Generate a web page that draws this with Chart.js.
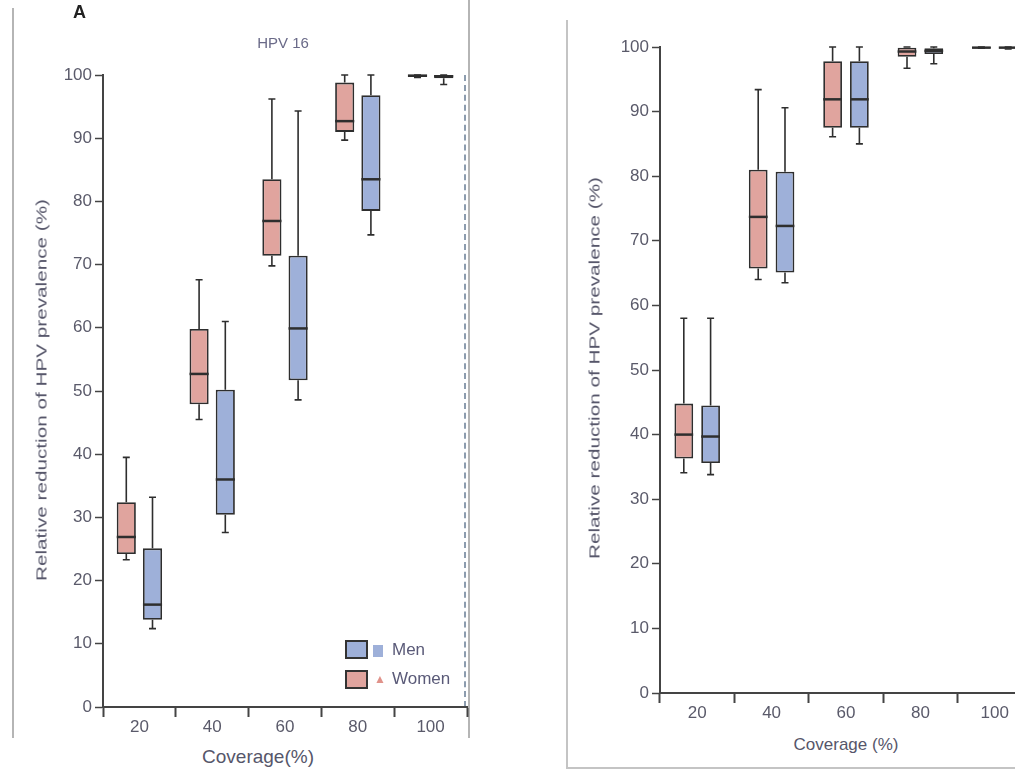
<!DOCTYPE html>
<html lang="en">
<head>
<meta charset="UTF-8">
<title>Relative reduction of HPV prevalence</title>
<script src="https://cdn.jsdelivr.net/npm/chart.js"></script>
<style>
  body { margin: 0; width: 1015px; height: 772px; overflow: hidden; background: #fff;
         position: relative; font-family: "Liberation Sans", Arial, sans-serif; color: #555; }
  canvas, .abs { position: absolute; }
  .ytitle { white-space: nowrap; font-size: 15px; color: #56566a;
            transform: translate(-50%, -50%) rotate(-90deg) scaleX(1.38); }
  .xtitle { white-space: nowrap; color: #56566a; transform: translate(-50%, -50%); }
  .legbox { width: 19px; height: 15px; border: 2px solid #333; }
  .legtxt { font-size: 17px; color: #5a5a78; transform: translateY(-50%); }
</style>
</head>
<body>

<!-- panel frames -->
<div class="abs" style="left:12px; top:8px; width:2px; height:730px; background:#b5b5b5"></div>
<div class="abs" style="left:468px; top:0; width:2px; height:738px; background:#b5b5b5"></div>
<div class="abs" style="left:464px; top:75px; width:0; height:632px; border-left:2px dashed #8c9cae"></div>
<div class="abs" style="left:566px; top:20px; width:2px; height:749px; background:#c4c4c4"></div>
<div class="abs" style="left:566px; top:767px; width:460px; height:2px; background:#c4c4c4"></div>

<canvas id="graficoA" width="480" height="740" style="left:0; top:0"></canvas>
<canvas id="graficoB" width="480" height="730" style="left:567px; top:0"></canvas>

<!-- texts -->
<div class="abs" style="left:73px; top:2px; font-weight:bold; font-size:18px; color:#222">A</div>
<div class="abs xtitle" style="left:283px; top:42px; font-size:15px; color:#6a6a88">HPV 16</div>
<div class="abs ytitle" style="left:41px; top:390px">Relative reduction of HPV prevalence (%)</div>
<div class="abs ytitle" style="left:594px; top:368px">Relative reduction of HPV prevalence (%)</div>
<div class="abs xtitle" style="left:258px; top:757px; font-size:19px">Coverage(%)</div>
<div class="abs xtitle" style="left:846px; top:745px; font-size:17px">Coverage (%)</div>

<!-- legend -->
<div class="abs legbox" style="left:345px; top:640px; background:#9eb0d9"></div>
<div class="abs" style="left:373px; top:645px; width:10px; height:12px; background:#9eb0d9"></div>
<div class="abs legtxt" style="left:392px; top:650px">Men</div>
<div class="abs legbox" style="left:345px; top:670px; background:#e0a49e"></div>
<div class="abs" style="left:374px; top:672px; font-size:12px; color:#e0928a">&#9650;</div>
<div class="abs legtxt" style="left:392px; top:679px">Women</div>

<script>
Chart.defaults.font.family = '"Liberation Sans", Arial, sans-serif';
Chart.defaults.color = '#5a5a6a';

// dados
var coverage = ['20', '40', '60', '80', '100'];
var corMulher = '#e0a49e';
var corHomem = '#9eb0d9';

// cada caixa: [min, q1, mediana, q3, max]
var mulheresA = [[23.3, 24.2, 26.9, 32.4, 39.5], [45.5, 47.9, 52.7, 59.8, 67.6], [69.8, 71.4, 76.9, 83.5, 96.2], [89.7, 91.0, 92.7, 98.8, 100], [99.6, 99.7, 99.9, 100, 100]];
var homensA = [[12.4, 13.8, 16.2, 25.1, 33.2], [27.6, 30.4, 36.0, 50.2, 61.0], [48.6, 51.7, 59.9, 71.4, 94.3], [74.7, 78.5, 83.5, 96.8, 100], [98.5, 99.5, 99.8, 100, 100]];
var mulheresB = [[34.1, 36.3, 40.0, 44.8, 58.0], [64.0, 65.7, 73.7, 81.0, 93.4], [86.1, 87.5, 91.9, 97.8, 100], [96.7, 98.5, 99.3, 99.9, 100], [99.8, 99.8, 99.9, 100, 100]];
var homensB = [[33.8, 35.6, 39.7, 44.5, 58.0], [63.5, 65.1, 72.3, 80.7, 90.6], [85.0, 87.5, 91.9, 97.8, 100], [97.4, 98.9, 99.4, 99.8, 100], [99.7, 99.8, 99.9, 100, 100]];

// bigodes e mediana desenhados sobre as barras flutuantes
var bigodes = {
    id: 'bigodes',
    afterDatasetsDraw: function (chart) {
        var ctx = chart.ctx;
        var y = chart.scales.y;
        chart.data.datasets.forEach(function (ds, i) {
            chart.getDatasetMeta(i).data.forEach(function (bar, j) {
                var s = ds.stats[j];
                var x = bar.x, meia = bar.width / 2;
                var yMin = y.getPixelForValue(s[0]), yQ1 = y.getPixelForValue(s[1]);
                var yMed = y.getPixelForValue(s[2]);
                var yQ3 = y.getPixelForValue(s[3]), yMax = y.getPixelForValue(s[4]);
                ctx.save();
                ctx.strokeStyle = '#2e2e2e';
                ctx.lineWidth = 1.6;
                ctx.beginPath();
                ctx.moveTo(x, yQ3); ctx.lineTo(x, yMax);
                ctx.moveTo(x, yQ1); ctx.lineTo(x, yMin);
                ctx.moveTo(x - 3.5, yMax); ctx.lineTo(x + 3.5, yMax);
                ctx.moveTo(x - 3.5, yMin); ctx.lineTo(x + 3.5, yMin);
                ctx.stroke();
                ctx.lineWidth = 2.5;
                ctx.beginPath();
                ctx.moveTo(x - meia, yMed); ctx.lineTo(x + meia, yMed);
                ctx.stroke();
                ctx.restore();
            });
        });
    }
};

function montarGrafico(id, mulheres, homens, cfg) {
    var dados = {
        labels: coverage,
        datasets: [{
            label: 'Women',
            stats: mulheres,
            data: mulheres.map(function (s) { return [s[1], s[3]]; }),
            backgroundColor: corMulher
        }, {
            label: 'Men',
            stats: homens,
            data: homens.map(function (s) { return [s[1], s[3]]; }),
            backgroundColor: corHomem
        }]
    };
    dados.datasets.forEach(function (ds) {
        ds.borderColor = '#2e2e2e';
        ds.borderWidth = 1.8;
        ds.borderSkipped = false;
        ds.categoryPercentage = cfg.cat;
        ds.barPercentage = cfg.bar;
    });

    return new Chart(document.getElementById(id), {
        type: 'bar',
        data: dados,
        plugins: [bigodes],
        options: {
            responsive: false,
            animation: false,
            devicePixelRatio: 1,
            layout: { padding: { left: 0, right: cfg.padRight, top: cfg.padTop, bottom: 0 } },
            plugins: { legend: { display: false }, tooltip: { enabled: false } },
            scales: {
                x: {
                    grid: { offset: true, drawOnChartArea: false, tickLength: 10, color: '#444', tickWidth: 2 },
                    border: { color: '#444', width: 2 },
                    ticks: { font: { size: 17 }, padding: cfg.xPad },
                    afterFit: function (s) { s.height = cfg.xHeight; }
                },
                y: {
                    min: 0,
                    max: 100,
                    grid: { drawOnChartArea: false, tickLength: 8, color: '#444', tickWidth: 1.5 },
                    border: { color: '#444', width: 2 },
                    ticks: { stepSize: 10, font: { size: 17 }, padding: 3 },
                    afterFit: function (s) { s.width = cfg.yWidth; }
                }
            }
        }
    });
}

montarGrafico('graficoA', mulheresA, homensA,
    { cat: 0.72, bar: 0.73, padRight: 13, padTop: 75, xHeight: 33, yWidth: 103, xPad: 0 });
montarGrafico('graficoB', mulheresB, homensB,
    { cat: 0.72, bar: 0.70, padRight: 15, padTop: 47, xHeight: 37, yWidth: 93, xPad: 0 });
</script>
</body>
</html>
